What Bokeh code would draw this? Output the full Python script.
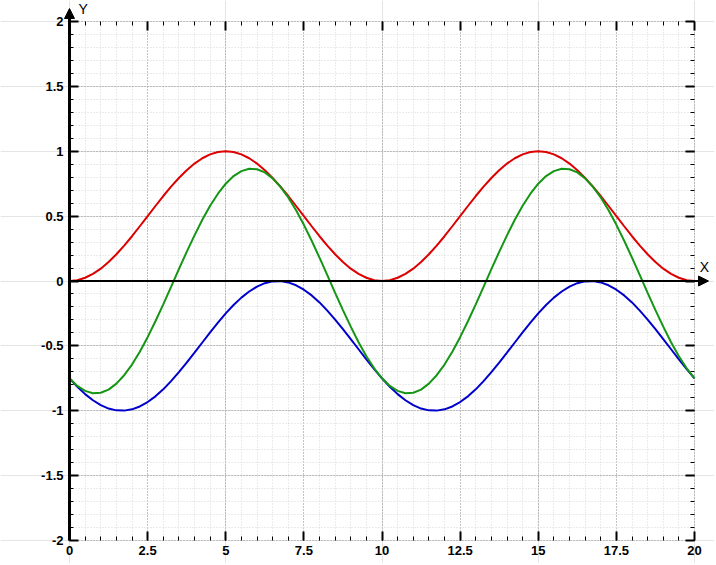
from bokeh.plotting import figure
from bokeh.models import (Range1d, LinearAxis, SingleIntervalTicker, CustomJSTickFormatter,
                          Arrow, NormalHead, Label, Grid)
from bokeh.embed import file_html
from bokeh.resources import INLINE

# ---- data ----
x_values = [0.0, 0.25, 0.5, 0.75, 1.0, 1.25, 1.5, 1.75, 2.0, 2.25, 2.5, 2.75, 3.0, 3.25, 3.5, 3.75,
            4.0, 4.25, 4.5, 4.75, 5.0, 5.25, 5.5, 5.75, 6.0, 6.25, 6.5, 6.75, 7.0, 7.25, 7.5, 7.75,
            8.0, 8.25, 8.5, 8.75, 9.0, 9.25, 9.5, 9.75, 10.0, 10.25, 10.5, 10.75, 11.0, 11.25, 11.5,
            11.75, 12.0, 12.25, 12.5, 12.75, 13.0, 13.25, 13.5, 13.75, 14.0, 14.25, 14.5, 14.75,
            15.0, 15.25, 15.5, 15.75, 16.0, 16.25, 16.5, 16.75, 17.0, 17.25, 17.5, 17.75, 18.0,
            18.25, 18.5, 18.75, 19.0, 19.25, 19.5, 19.75, 20.0]

red_values = [0.0, 0.006, 0.025, 0.055, 0.095, 0.146, 0.206, 0.273, 0.345, 0.422, 0.5, 0.578, 0.655,
              0.727, 0.794, 0.854, 0.905, 0.946, 0.976, 0.994, 1.0, 0.994, 0.976, 0.946, 0.905, 0.854,
              0.794, 0.727, 0.655, 0.578, 0.5, 0.422, 0.345, 0.273, 0.206, 0.146, 0.095, 0.055, 0.025,
              0.006, 0.0, 0.006, 0.025, 0.055, 0.095, 0.146, 0.206, 0.273, 0.345, 0.422, 0.5, 0.578,
              0.655, 0.727, 0.794, 0.854, 0.905, 0.946, 0.976, 0.994, 1.0, 0.994, 0.976, 0.946, 0.905,
              0.854, 0.794, 0.727, 0.655, 0.578, 0.5, 0.422, 0.345, 0.273, 0.206, 0.146, 0.095, 0.055,
              0.025, 0.006, 0.0]

blue_values = [-0.75, -0.815, -0.872, -0.919, -0.957, -0.983, -0.997, -0.999, -0.989, -0.967, -0.933,
               -0.889, -0.835, -0.772, -0.703, -0.629, -0.552, -0.474, -0.396, -0.321, -0.25, -0.185,
               -0.128, -0.081, -0.043, -0.017, -0.003, -0.001, -0.011, -0.033, -0.067, -0.111, -0.165,
               -0.228, -0.297, -0.371, -0.448, -0.526, -0.604, -0.679, -0.75, -0.815, -0.872, -0.919,
               -0.957, -0.983, -0.997, -0.999, -0.989, -0.967, -0.933, -0.889, -0.835, -0.772, -0.703,
               -0.629, -0.552, -0.474, -0.396, -0.321, -0.25, -0.185, -0.128, -0.081, -0.043, -0.017,
               -0.003, -0.001, -0.011, -0.033, -0.067, -0.111, -0.165, -0.228, -0.297, -0.371, -0.448,
               -0.526, -0.604, -0.679, -0.75]

green_values = [-0.75, -0.809, -0.847, -0.865, -0.861, -0.837, -0.791, -0.726, -0.644, -0.545, -0.433,
                -0.31, -0.18, -0.045, 0.091, 0.224, 0.352, 0.472, 0.58, 0.673, 0.75, 0.809, 0.847,
                0.865, 0.861, 0.837, 0.791, 0.726, 0.644, 0.545, 0.433, 0.31, 0.18, 0.045, -0.091,
                -0.224, -0.352, -0.472, -0.58, -0.673, -0.75, -0.809, -0.847, -0.865, -0.861, -0.837,
                -0.791, -0.726, -0.644, -0.545, -0.433, -0.31, -0.18, -0.045, 0.091, 0.224, 0.352,
                0.472, 0.58, 0.673, 0.75, 0.809, 0.847, 0.865, 0.861, 0.837, 0.791, 0.726, 0.644,
                0.545, 0.433, 0.31, 0.18, 0.045, -0.091, -0.224, -0.352, -0.472, -0.58, -0.673, -0.75]

x_bounds = (0, 20)
y_bounds = (-2, 2)
x_major_step = 2.5
y_major_step = 0.5
axis_labels = ("X", "Y")

# ---- layout: the frame covers the whole canvas; the plot box sits inside it ----
W, H = 714, 563
BOX_L, BOX_R, BOX_T, BOX_B = 69, 694, 21, 540          # pixel edges of the plot box
ux = (x_bounds[1] - x_bounds[0]) / (BOX_R - BOX_L)    # data units per pixel
uy = (y_bounds[1] - y_bounds[0]) / (BOX_B - BOX_T)
xr = Range1d(x_bounds[0] - BOX_L * ux, x_bounds[1] + (W - BOX_R) * ux)
yr = Range1d(y_bounds[0] - (H - BOX_B) * uy, y_bounds[1] + BOX_T * uy)

p = figure(frame_width=W, frame_height=H, output_backend="svg", toolbar_location=None,
           x_range=xr, y_range=yr, x_axis_location=None, y_axis_location=None,
           min_border=0)
p.outline_line_color = None
p.background_fill_color = "white"
p.border_fill_color = "white"

xt = SingleIntervalTicker(interval=x_major_step, num_minor_ticks=5)
yt = SingleIntervalTicker(interval=y_major_step, num_minor_ticks=5)
fmt = CustomJSTickFormatter(code="return tick.toString();")
blank = CustomJSTickFormatter(code="return '';")

FONT = "Liberation Sans"

# grids (inside the box only)
for dim, tk, b, cb in ((0, xt, x_bounds, y_bounds), (1, yt, y_bounds, x_bounds)):
    g = Grid(dimension=dim, ticker=tk, bounds=b)
    if "cross_bounds" in Grid.properties():
        g.cross_bounds = cb
    g.grid_line_color = "#9a9a9a"
    g.grid_line_dash = "1 2"
    g.grid_line_width = 1
    g.minor_grid_line_color = "#d6d6d6"
    g.minor_grid_line_dash = "1 2"
    g.minor_grid_line_width = 1
    p.add_layout(g, "center")


def style_axis(ax, show_labels):
    ax.axis_line_color = None
    ax.major_tick_in = 9
    ax.major_tick_out = 0
    ax.minor_tick_in = 4
    ax.minor_tick_out = 0
    ax.major_tick_line_color = "black"
    ax.major_tick_line_width = 2
    ax.minor_tick_line_color = "black"
    ax.minor_tick_line_width = 1
    if show_labels:
        ax.formatter = fmt
        ax.major_label_text_font = FONT
        ax.major_label_text_font_style = "bold"
        ax.major_label_text_font_size = "13px"
        ax.major_label_text_color = "black"
    else:
        ax.formatter = blank
        ax.major_label_text_font_size = "0px"
        ax.major_label_standoff = 0


bottom = LinearAxis(ticker=xt, fixed_location=y_bounds[0], bounds=x_bounds)
style_axis(bottom, True)
bottom.major_label_standoff = 5
p.add_layout(bottom, "below")

left = LinearAxis(ticker=yt, fixed_location=x_bounds[0], bounds=y_bounds)
style_axis(left, True)
left.major_label_standoff = 6
p.add_layout(left, "left")

top = LinearAxis(ticker=xt, fixed_location=y_bounds[1], bounds=x_bounds)
style_axis(top, False)
p.add_layout(top, "above")

right = LinearAxis(ticker=yt, fixed_location=x_bounds[1], bounds=y_bounds)
style_axis(right, False)
p.add_layout(right, "right")

# curves
p.line(x_values, red_values, line_color="#dd0000", line_width=2)
p.line(x_values, blue_values, line_color="#0000cc", line_width=2)
p.line(x_values, green_values, line_color="#149614", line_width=2)

# axis arrows
p.add_layout(Arrow(end=NormalHead(size=10, fill_color="black", line_color="black", line_width=1),
                   x_start=0, y_start=0, x_end=x_bounds[1] + 14 * ux, y_end=0,
                   line_color="black", line_width=2))
p.add_layout(Arrow(end=NormalHead(size=10, fill_color="black", line_color="black", line_width=1),
                   x_start=0, y_start=y_bounds[0], x_end=0, y_end=y_bounds[1] + 13 * uy,
                   line_color="black", line_width=3))

p.add_layout(Label(x=x_bounds[1] + 10 * ux, y=14 * uy, text=axis_labels[0], text_align="center",
                   text_baseline="middle", text_font=FONT, text_font_size="14px",
                   text_color="black"))
p.add_layout(Label(x=0, y=y_bounds[1] + 13 * uy, x_offset=9, text=axis_labels[1],
                   text_align="left", text_baseline="middle", text_font=FONT,
                   text_font_size="14px", text_color="black"))

open("out.html", "w").write(file_html(p, INLINE))
